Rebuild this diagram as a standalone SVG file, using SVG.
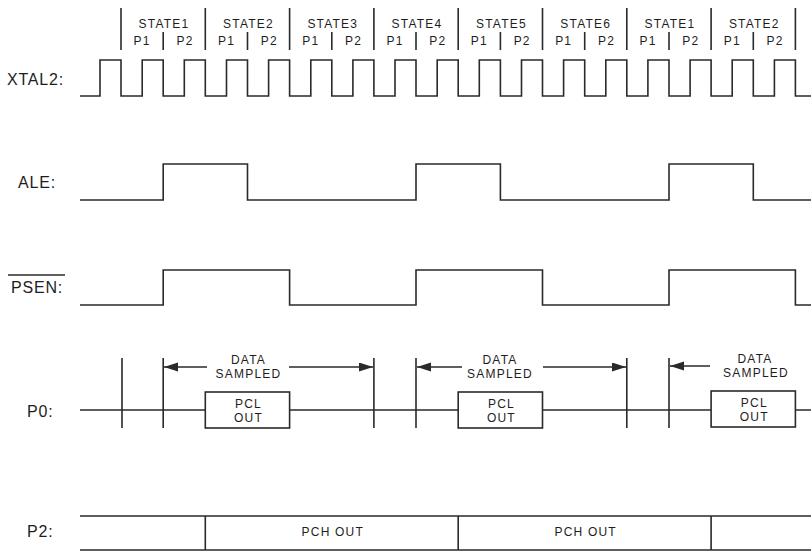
<svg xmlns="http://www.w3.org/2000/svg" width="811" height="552" viewBox="0 0 811 552">
<style>
.w{fill:none;stroke:#2a2a2a;stroke-width:1.6;stroke-linejoin:miter}
.lab{font-family:"Liberation Sans",Arial,sans-serif;font-size:16px;letter-spacing:0.8px;fill:#1e1e1e}
.sm{font-family:"Liberation Sans",Arial,sans-serif;font-size:12px;letter-spacing:1.2px;fill:#1e1e1e;text-anchor:middle}
</style>
<defs>
<marker id="ah" markerUnits="userSpaceOnUse" markerWidth="15" markerHeight="10" refX="14" refY="4.5" orient="auto">
<path d="M0,0 L14,4.5 L0,9 z" fill="#2a2a2a"/>
</marker>
</defs>
<rect width="811" height="552" fill="#fff"/>

<g id="header">
<path class="w" d="M121 8V50M205.3 8V50M289.6 8V50M373.9 8V50M458.2 8V50M542.5 8V50M626.8 8V50M711.1 8V50M795.4 8V50"/>
<path class="w" d="M163.2 32V50M247.5 32V50M331.8 32V50M416 32V50M500.4 32V50M584.7 32V50M669 32V50M753.3 32V50"/>
<g class="sm">
<text x="164" y="28">STATE1</text>
<text x="248.5" y="28">STATE2</text>
<text x="332.8" y="28">STATE3</text>
<text x="417" y="28">STATE4</text>
<text x="501.4" y="28">STATE5</text>
<text x="585.7" y="28">STATE6</text>
<text x="670" y="28">STATE1</text>
<text x="754.3" y="28">STATE2</text>
</g>
<g class="sm">
<text x="142" y="45">P1</text><text x="185" y="45">P2</text>
<text x="226.5" y="45">P1</text><text x="269.3" y="45">P2</text>
<text x="310.8" y="45">P1</text><text x="353.6" y="45">P2</text>
<text x="395.1" y="45">P1</text><text x="437.9" y="45">P2</text>
<text x="479.4" y="45">P1</text><text x="522.2" y="45">P2</text>
<text x="563.7" y="45">P1</text><text x="606.5" y="45">P2</text>
<text x="648" y="45">P1</text><text x="690.8" y="45">P2</text>
<text x="732.3" y="45">P1</text><text x="775.1" y="45">P2</text>
</g>
</g>

<g id="xtal2">
<text class="lab" x="7" y="85">XTAL2:</text>
<path class="w" d="M80 96H100V60H121V96H142.2V60H163.2V96H184.3V60H205.3V96H226.5V60H247.5V96H268.6V60H289.6V96H310.8V60H331.8V96H352.9V60H373.9V96H395V60H416V96H437.2V60H458.2V96H479.3V60H500.4V96H521.5V60H542.5V96H563.6V60H584.7V96H605.8V60H626.8V96H647.9V60H669V96H690.1V60H711.1V96H732.2V60H753.3V96H774.4V60H795.4V96H811"/>
</g>

<g id="ale">
<text class="lab" x="18" y="188">ALE:</text>
<path class="w" d="M80 200H163.2V164H247.5V200H416V164H500.4V200H669V164H753.3V200H811"/>
</g>

<g id="psen">
<text class="lab" x="11" y="293">PSEN:</text>
<line class="w" x1="8" y1="275" x2="65" y2="275"/>
<path class="w" d="M80 305H163.2V270H289.6V305H416V270H542.5V305H669V270H795.4V305H811"/>
</g>

<g id="p0">
<text class="lab" x="27" y="417">P0:</text>
<path class="w" d="M80 410H205.3M289.6 410H458.2M542.5 410H711.1M795.4 410H811"/>
<path class="w" d="M122 358V428M163.2 358V428M373.9 358V428M416 358V428M626.8 358V428M669 358V428"/>
<g id="pcl1"><rect class="w" x="205.3" y="392" width="84.3" height="36"/><text class="sm" x="248.5" y="408">PCL</text><text class="sm" x="248.5" y="422">OUT</text></g>
<g id="pcl2"><rect class="w" x="458.2" y="392" width="84.3" height="36"/><text class="sm" x="501.4" y="408">PCL</text><text class="sm" x="501.4" y="422">OUT</text></g>
<g id="pcl3"><rect class="w" x="711.1" y="391" width="84.3" height="36"/><text class="sm" x="754.3" y="407">PCL</text><text class="sm" x="754.3" y="421">OUT</text></g>
<g class="sm">
<text x="248.5" y="364">DATA</text><text x="248.5" y="378">SAMPLED</text>
<text x="500" y="364">DATA</text><text x="500" y="378">SAMPLED</text>
<text x="755" y="363">DATA</text><text x="756" y="377">SAMPLED</text>
</g>
</g>

<g id="connectors">
<line class="w" x1="207" y1="367" x2="164" y2="367" marker-end="url(#ah)"/>
<line class="w" x1="289" y1="367" x2="373" y2="367" marker-end="url(#ah)"/>
<line class="w" x1="462" y1="367" x2="417" y2="367" marker-end="url(#ah)"/>
<line class="w" x1="543" y1="367" x2="626" y2="367" marker-end="url(#ah)"/>
<line class="w" x1="710" y1="366" x2="670" y2="366" marker-end="url(#ah)"/>
</g>

<g id="p2">
<text class="lab" x="27" y="537">P2:</text>
<path class="w" d="M80 516H811M80 550H811M205.3 516V550M458.2 516V550M711.1 516V550"/>
<text class="sm" x="332.8" y="536">PCH OUT</text>
<text class="sm" x="585.7" y="536">PCH OUT</text>
</g>
</svg>
